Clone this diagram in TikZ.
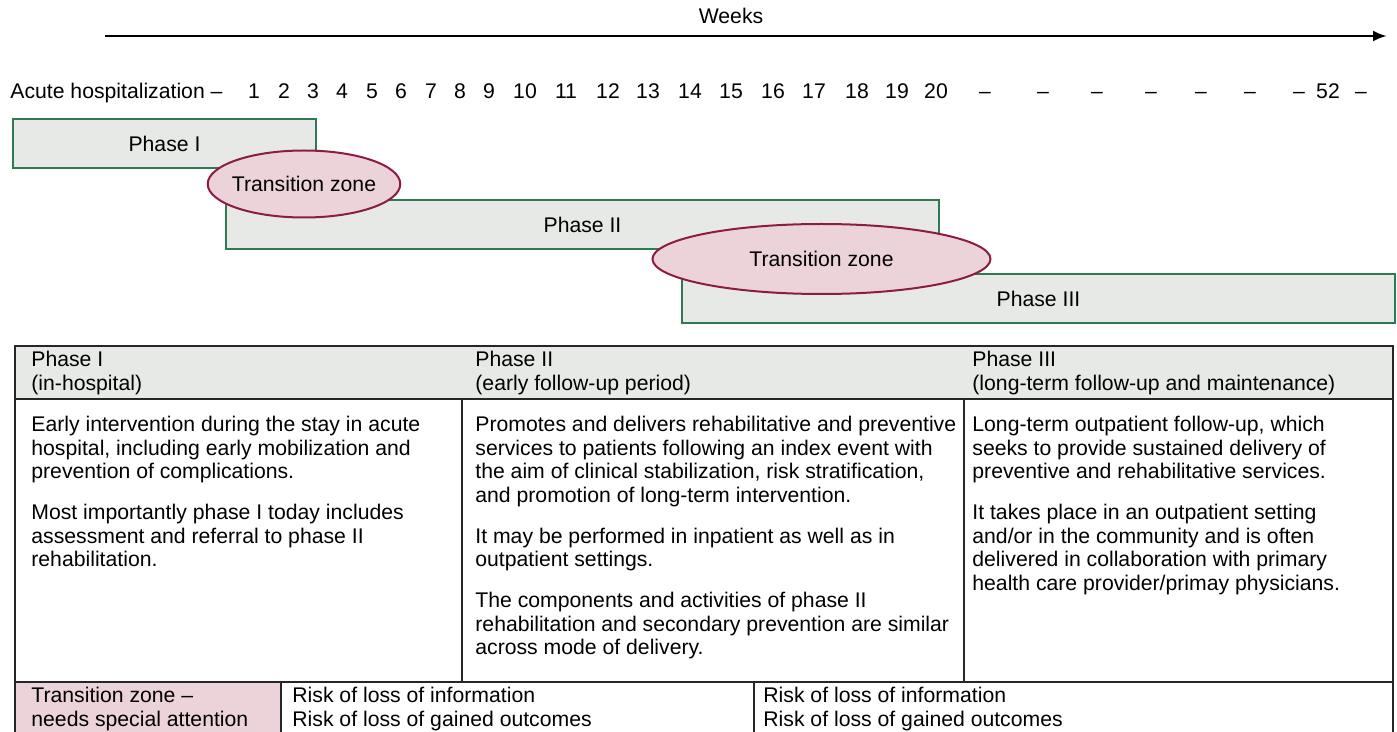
\documentclass[tikz,border=0pt]{standalone}
\usepackage{fontspec}
\setmainfont{Liberation Sans}
\usetikzlibrary{arrows.meta,positioning,shapes.geometric}
\definecolor{CRGreen}{HTML}{2F7A50}
\definecolor{CRPaper}{HTML}{E7E9E6}
\definecolor{CRRose}{HTML}{ECD3DA}
\definecolor{CRWine}{HTML}{8C1D40}
\definecolor{CRInk}{HTML}{262626}
\newcommand{\crfont}{\fontsize{10.6}{11.75}\selectfont}
\tikzset{
  crbar/.style={
    draw=CRGreen,
    fill=CRPaper,
    line width=1pt,
    minimum height=24.5pt,
    font=\crfont
  },
  crzone/.style={
    ellipse,
    draw=CRWine,
    fill=CRRose,
    line width=1pt,
    inner sep=0pt,
    font=\crfont
  },
  crweek/.style={font=\crfont,inner sep=0pt,anchor=base},
  crcell/.style={font=\crfont,inner sep=0pt,align=left,anchor=north west},
  crrule/.style={draw=CRInk,line width=1pt},
  crthin/.style={draw=CRInk,line width=0.75pt}
}

\begin{document}
\begin{tikzpicture}[x=0.5pt,y=-0.5pt]
  \useasboundingbox (0,0) rectangle (1397,732);

  % time axis
  \node[crweek] (weeks) at (731,24) {Weeks};
  \coordinate (axisL) at (105,36);
  \coordinate (axisR) at (1387,36);
  \draw[-{Latex[length=7pt,width=5.5pt]},line width=1.4pt] (axisL) -- (axisR);

  \node[crweek,anchor=base west] (acute) at (10,99) {Acute hospitalization --};
  \foreach \x/\w in {254/1,284/2,313/3,342/4,372/5,401/6,431/7,460/8,489/9,
                     525/10,566/11,608/12,648/13,690/14,731/15,773/16,814/17,
                     857/18,897/19,936/20,1328/52}
    \node[crweek] (wk\w) at (\x,99) {\w};
  \foreach \x [count=\i] in {985,1043,1097,1151,1201,1250,1299,1361}
    \node[crweek] (gap\i) at (\x,99) {--};

  % phase bars
  \node[crbar,minimum width=151.5pt] (ph1) at (164.5,143.5) {Phase I};
  \node[crbar,minimum width=356.5pt] (ph2) at (582.5,224.5) {Phase II};
  \node[crbar,minimum width=356.5pt] (ph3) at (1038.5,298.5) {Phase III};

  % transition zones
  \node[crzone,inner xsep=-2pt,minimum width=96pt,minimum height=33.5pt] (tz1) at (304,184) {Transition zone};
  \node[crzone,minimum width=169pt,minimum height=35pt] (tz2) at (821.5,259) {Transition zone};

  % table
  \fill[CRPaper] (15,346) rectangle (1393,399);
  \fill[CRRose] (15,682) rectangle (281,732);
  \draw[crrule] (15,733) -- (15,346) -- (1393,346) -- (1393,733);
  \draw[crrule] (15,399) -- (1393,399);
  \draw[crrule] (15,682) -- (1393,682);
  \draw[crthin] (462,399) -- (462,682);
  \draw[crthin] (964,399) -- (964,682);
  \draw[crthin] (281,682) -- (281,733);
  \draw[crthin] (754,682) -- (754,733);

  \node[crcell] (head1) at (31,351) {Phase I\\(in-hospital)};
  \node[crcell] (head2) at (475,351) {Phase II\\(early follow-up period)};
  \node[crcell] (head3) at (972,351) {Phase III\\(long-term follow-up and maintenance)};

  \node[crcell] (body1) at (31,416) {Early intervention during the stay in acute\\
    hospital, including early mobilization and\\
    prevention of complications.\\[8.75pt]
    Most importantly phase I today includes\\
    assessment and referral to phase II\\
    rehabilitation.};
  \node[crcell] (body2) at (475,416) {Promotes and delivers rehabilitative and preventive\\
    services to patients following an index event with\\
    the aim of clinical stabilization, risk stratification,\\
    and promotion of long-term intervention.\\[8.75pt]
    It may be performed in inpatient as well as in\\
    outpatient settings.\\[8.75pt]
    The components and activities of phase II\\
    rehabilitation and secondary prevention are similar\\
    across mode of delivery.};
  \node[crcell] (body3) at (972,416) {Long-term outpatient follow-up, which\\
    seeks to provide sustained delivery of\\
    preventive and rehabilitative services.\\[8.75pt]
    It takes place in an outpatient setting\\
    and/or in the community and is often\\
    delivered in collaboration with primary\\
    health care provider/primay physicians.};

  \node[crcell] (risk0) at (31,687) {Transition zone --\\needs special attention};
  \node[crcell] (risk1) at (292,687) {Risk of loss of information\\Risk of loss of gained outcomes};
  \node[crcell] (risk2) at (763,687) {Risk of loss of information\\Risk of loss of gained outcomes};
\end{tikzpicture}
\end{document}
